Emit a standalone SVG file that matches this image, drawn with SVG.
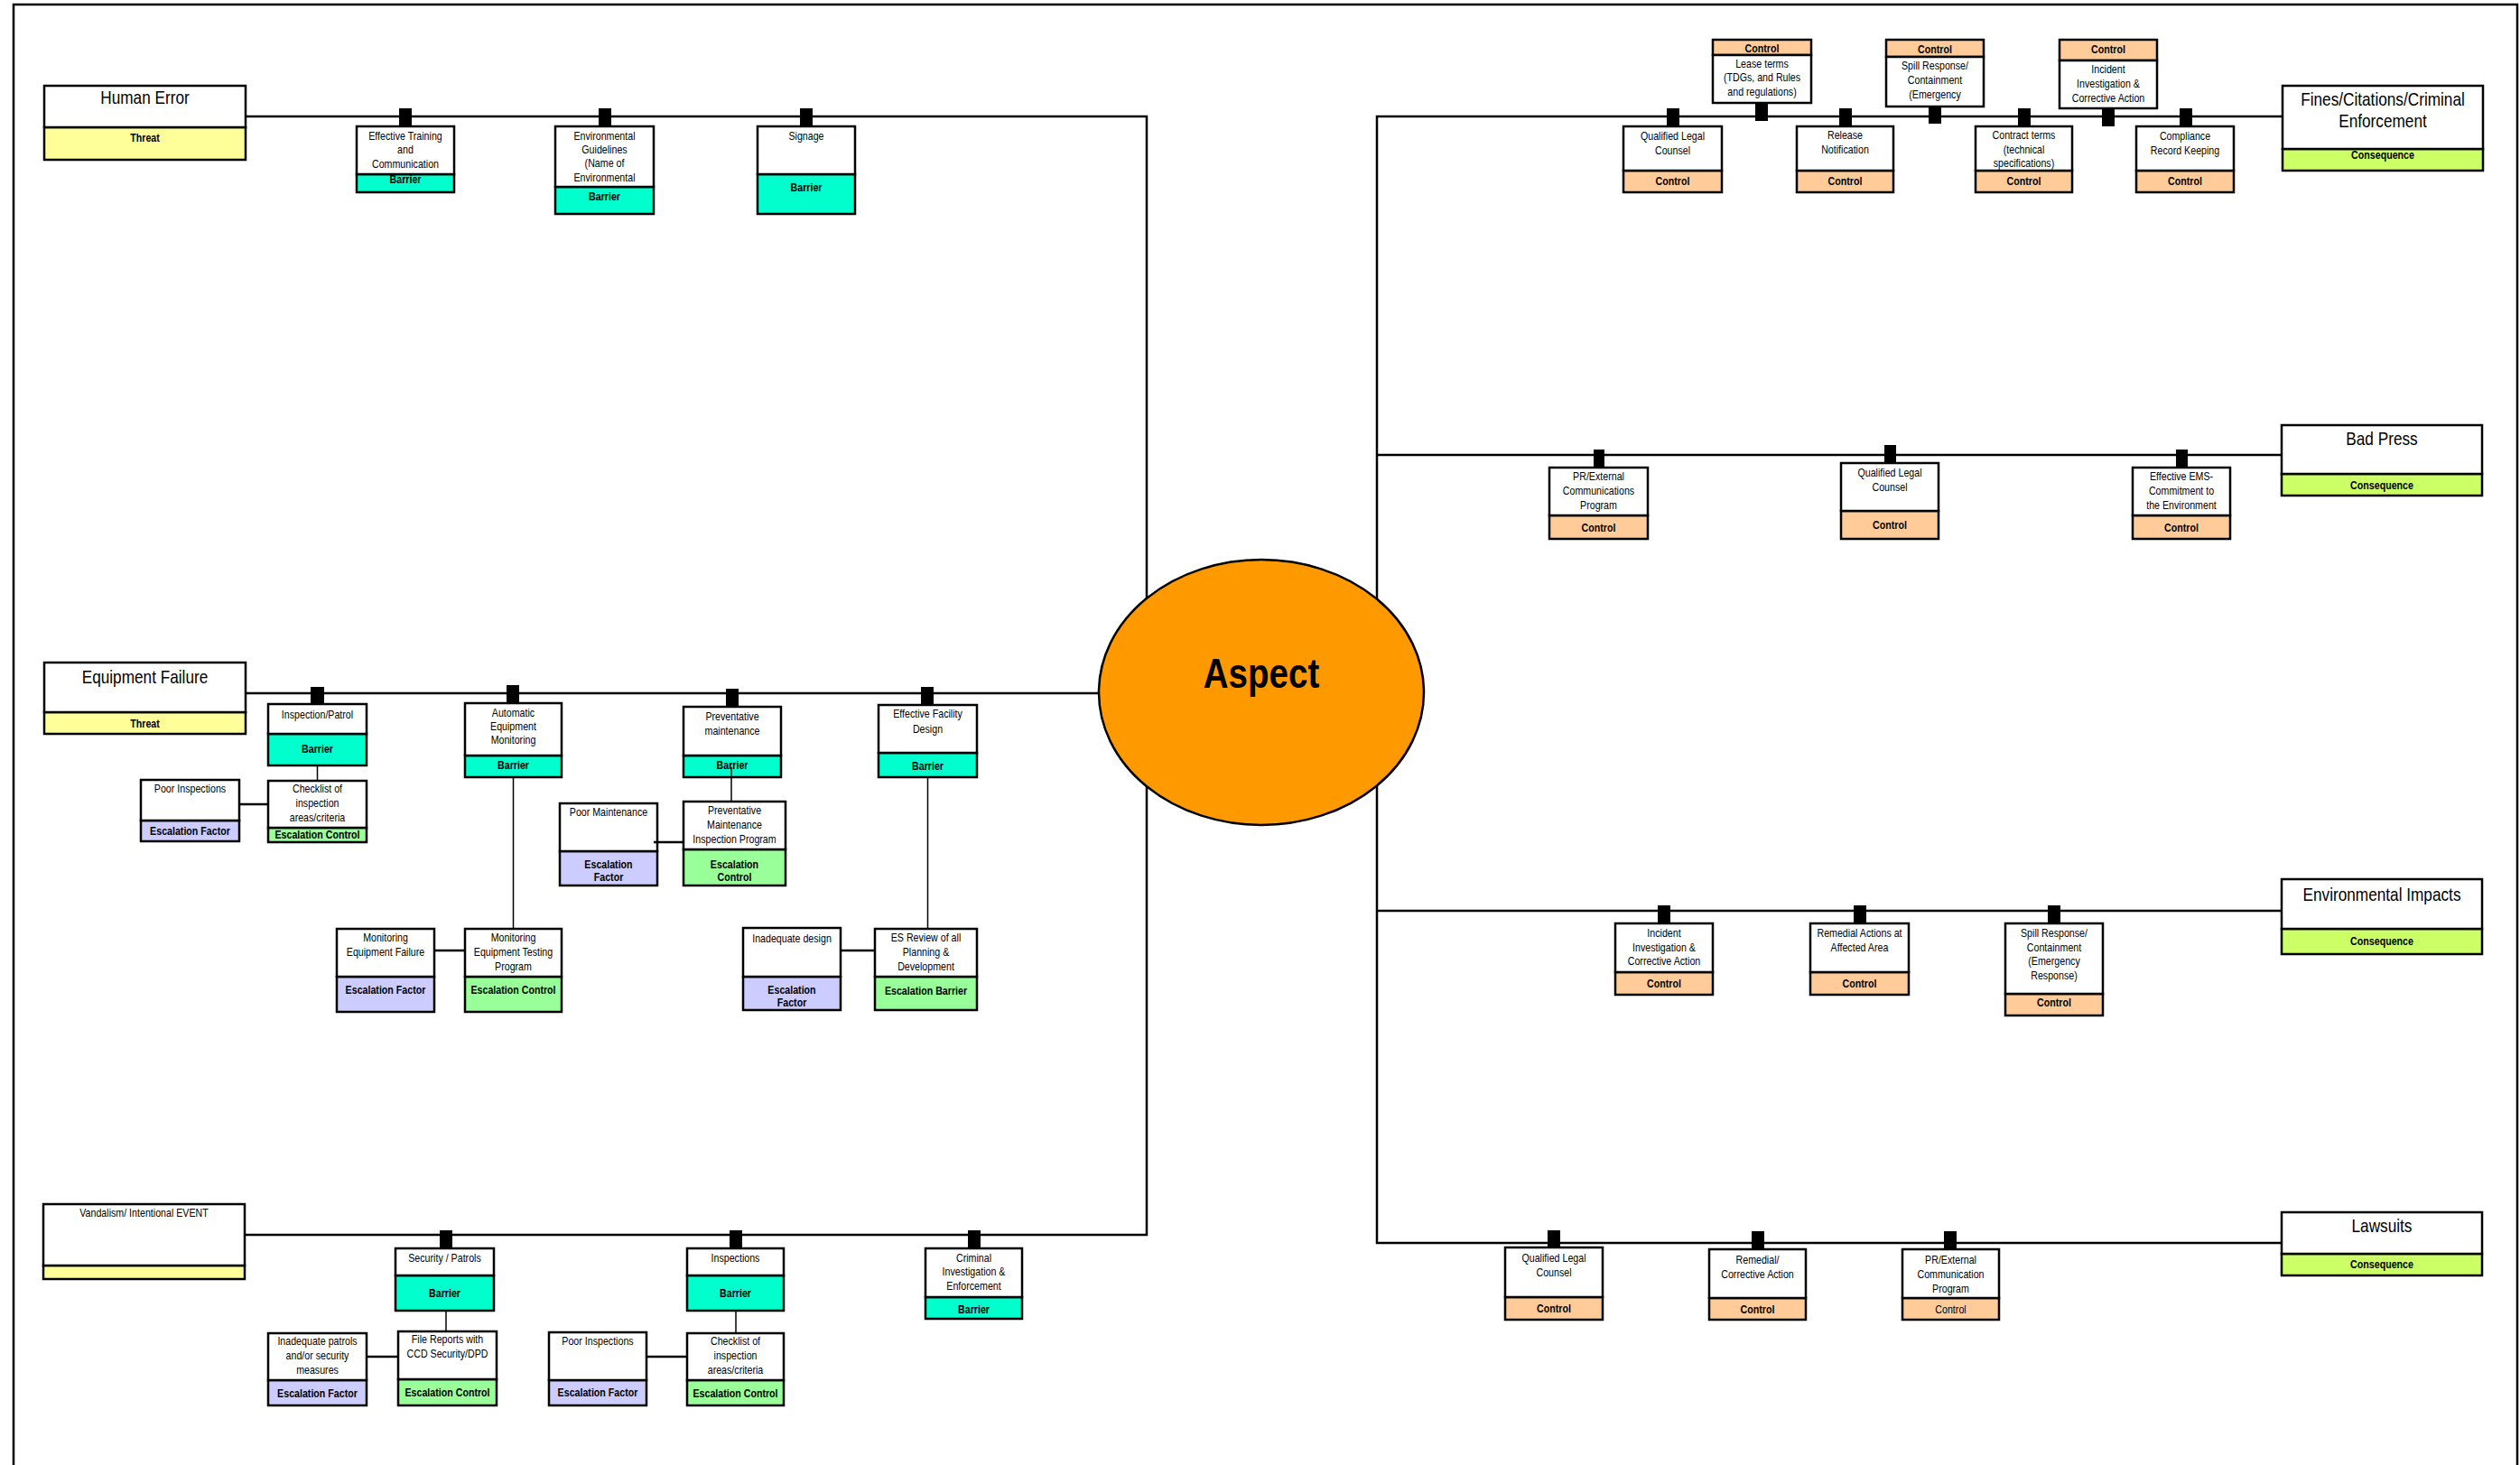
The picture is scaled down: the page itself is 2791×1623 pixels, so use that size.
<svg xmlns="http://www.w3.org/2000/svg" width="2791" height="1623" viewBox="0 0 2791 1623">
<style>
.bx{stroke:#000;stroke-width:2.5}
.w{fill:#fff}
.thr{fill:#ffff99}
.bar{fill:#00ffcc}
.ef{fill:#ccccff}
.ec{fill:#99ff99}
.ctl{fill:#ffcc99}
.con{fill:#ccff66}
text{font-family:"Liberation Sans",Arial,sans-serif;font-size:13px;text-anchor:middle;fill:#000}
.b{font-weight:bold}
.ti{font-size:21px}
.ln{stroke:#000;stroke-width:2.5;fill:none}
.th{stroke:#000;stroke-width:1.5;fill:none}
.tab{fill:#000}
</style>
<rect x="15" y="5" width="2773" height="1650" fill="#fff" stroke="#000" stroke-width="2.5"/>

<g id="human-error">
<rect class="bx thr" x="49" y="141" width="223" height="36"/>
<rect class="bx w" x="49" y="95" width="223" height="46"/>
<g transform="translate(160.5 0) scale(.82 1)"><text class="b" y="157">Threat</text><text class="ti" y="115">Human Error</text></g>
</g>
<g id="barrier-training">
<rect class="bx bar" x="395" y="193" width="108" height="20"/>
<g transform="translate(449 0) scale(.82 1)"><text class="b" y="203">Barrier</text></g>
<rect class="bx w" x="395" y="140" width="108" height="53"/>
<g transform="translate(449 0) scale(.82 1)"><text y="155">Effective Training</text><text y="170">and</text><text y="186">Communication</text></g>
</g>
<g id="barrier-env-guidelines">
<rect class="bx bar" x="615" y="207" width="109" height="30"/>
<rect class="bx w" x="615" y="140" width="109" height="67"/>
<g transform="translate(669.5 0) scale(.82 1)"><text class="b" y="222">Barrier</text><text y="155">Environmental</text><text y="170">Guidelines</text><text y="185">(Name of</text><text y="201">Environmental</text></g>
</g>
<g id="barrier-signage">
<rect class="bx bar" x="839" y="193" width="108" height="44"/>
<rect class="bx w" x="839" y="140" width="108" height="53"/>
<g transform="translate(893 0) scale(.82 1)"><text class="b" y="212">Barrier</text><text y="155">Signage</text></g>
</g>

<g id="equipment-failure">
<rect class="bx thr" x="49" y="789" width="223" height="24"/>
<rect class="bx w" x="49" y="734" width="223" height="55"/>
<g transform="translate(160.5 0) scale(.82 1)"><text class="b" y="806">Threat</text><text class="ti" y="757">Equipment Failure</text></g>
</g>
<g id="barrier-inspection-patrol">
<rect class="bx bar" x="297" y="813" width="109" height="35"/>
<rect class="bx w" x="297" y="780" width="109" height="33"/>
<g transform="translate(351.5 0) scale(.82 1)"><text class="b" y="834">Barrier</text><text y="796">Inspection/Patrol</text></g>
</g>
<g id="esc-control-checklist-1">
<rect class="bx ec" x="297" y="917" width="109" height="16"/>
<g transform="translate(351.5 0) scale(.82 1)"><text class="b" y="929">Escalation Control</text></g>
<rect class="bx w" x="297" y="865" width="109" height="52"/>
<g transform="translate(351.5 0) scale(.82 1)"><text y="878">Checklist of</text><text y="894">inspection</text><text y="910">areas/criteria</text></g>
</g>
<g id="esc-factor-poor-inspections-1">
<rect class="bx ef" x="156" y="909" width="109" height="23"/>
<rect class="bx w" x="156" y="864" width="109" height="45"/>
<g transform="translate(210.5 0) scale(.82 1)"><text class="b" y="925">Escalation Factor</text><text y="878">Poor Inspections</text></g>
</g>
<g id="barrier-auto-monitoring">
<rect class="bx bar" x="515" y="837" width="107" height="24"/>
<rect class="bx w" x="515" y="779" width="107" height="58"/>
<g transform="translate(568.5 0) scale(.82 1)"><text class="b" y="852">Barrier</text><text y="794">Automatic</text><text y="809">Equipment</text><text y="824">Monitoring</text></g>
</g>
<g id="esc-control-monitoring-testing">
<rect class="bx ec" x="515" y="1082" width="107" height="39"/>
<rect class="bx w" x="515" y="1029" width="107" height="53"/>
<g transform="translate(568.5 0) scale(.82 1)"><text class="b" y="1101">Escalation Control</text><text y="1043">Monitoring</text><text y="1059">Equipment Testing</text><text y="1075">Program</text></g>
</g>
<g id="esc-factor-monitoring-failure">
<rect class="bx ef" x="373" y="1082" width="108" height="39"/>
<rect class="bx w" x="373" y="1029" width="108" height="53"/>
<g transform="translate(427 0) scale(.82 1)"><text class="b" y="1101">Escalation Factor</text><text y="1043">Monitoring</text><text y="1059">Equipment Failure</text></g>
</g>
<g id="barrier-prev-maintenance">
<rect class="bx bar" x="757" y="837" width="108" height="24"/>
<rect class="bx w" x="757" y="783" width="108" height="54"/>
<g transform="translate(811 0) scale(.82 1)"><text class="b" y="852">Barrier</text><text y="798">Preventative</text><text y="814">maintenance</text></g>
</g>
<g id="esc-control-pm-program">
<rect class="bx ec" x="757" y="941" width="113" height="40"/>
<rect class="bx w" x="757" y="888" width="113" height="53"/>
<g transform="translate(813.5 0) scale(.82 1)"><text class="b" y="962">Escalation</text><text class="b" y="976">Control</text><text y="902">Preventative</text><text y="918">Maintenance</text><text y="934">Inspection Program</text></g>
</g>
<g id="esc-factor-poor-maintenance">
<rect class="bx ef" x="620" y="943" width="108" height="38"/>
<rect class="bx w" x="620" y="890" width="108" height="53"/>
<g transform="translate(674 0) scale(.82 1)"><text class="b" y="962">Escalation</text><text class="b" y="976">Factor</text><text y="904">Poor Maintenance</text></g>
</g>
<g id="barrier-facility-design">
<rect class="bx bar" x="973" y="834" width="109" height="27"/>
<rect class="bx w" x="973" y="781" width="109" height="53"/>
<g transform="translate(1027.5 0) scale(.82 1)"><text class="b" y="853">Barrier</text><text y="795">Effective Facility</text><text y="812">Design</text></g>
</g>
<g id="esc-barrier-es-review">
<rect class="bx ec" x="969" y="1082" width="113" height="37"/>
<rect class="bx w" x="969" y="1029" width="113" height="53"/>
<g transform="translate(1025.5 0) scale(.82 1)"><text class="b" y="1102">Escalation Barrier</text><text y="1043">ES Review of all</text><text y="1059">Planning &amp;</text><text y="1075">Development</text></g>
</g>
<g id="esc-factor-inadequate-design">
<rect class="bx ef" x="823" y="1082" width="108" height="37"/>
<rect class="bx w" x="823" y="1028" width="108" height="54"/>
<g transform="translate(877 0) scale(.82 1)"><text class="b" y="1101">Escalation</text><text class="b" y="1115">Factor</text><text y="1044">Inadequate design</text></g>
</g>

<g id="vandalism">
<rect class="bx thr" x="48" y="1402" width="223" height="15"/>
<rect class="bx w" x="48" y="1334" width="223" height="68"/>
<g transform="translate(159.5 0) scale(.82 1)"><text y="1348">Vandalism/ Intentional EVENT</text></g>
</g>
<g id="barrier-security-patrols">
<rect class="bx bar" x="438" y="1413" width="109" height="39"/>
<rect class="bx w" x="438" y="1383" width="109" height="30"/>
<g transform="translate(492.5 0) scale(.82 1)"><text class="b" y="1437">Barrier</text><text y="1398">Security / Patrols</text></g>
</g>
<g id="esc-control-file-reports">
<rect class="bx ec" x="441" y="1528" width="109" height="29"/>
<rect class="bx w" x="441" y="1475" width="109" height="53"/>
<g transform="translate(495.5 0) scale(.82 1)"><text class="b" y="1547">Escalation Control</text><text y="1488">File Reports with</text><text y="1504">CCD Security/DPD</text></g>
</g>
<g id="esc-factor-inadequate-patrols">
<rect class="bx ef" x="297" y="1529" width="109" height="28"/>
<rect class="bx w" x="297" y="1477" width="109" height="52"/>
<g transform="translate(351.5 0) scale(.82 1)"><text class="b" y="1548">Escalation Factor</text><text y="1490">Inadequate patrols</text><text y="1506">and/or security</text><text y="1522">measures</text></g>
</g>
<g id="barrier-inspections">
<rect class="bx bar" x="761" y="1413" width="107" height="39"/>
<rect class="bx w" x="761" y="1383" width="107" height="30"/>
<g transform="translate(814.5 0) scale(.82 1)"><text class="b" y="1437">Barrier</text><text y="1398">Inspections</text></g>
</g>
<g id="esc-control-checklist-2">
<rect class="bx ec" x="761" y="1529" width="107" height="28"/>
<rect class="bx w" x="761" y="1477" width="107" height="52"/>
<g transform="translate(814.5 0) scale(.82 1)"><text class="b" y="1548">Escalation Control</text><text y="1490">Checklist of</text><text y="1506">inspection</text><text y="1522">areas/criteria</text></g>
</g>
<g id="esc-factor-poor-inspections-2">
<rect class="bx ef" x="608" y="1529" width="108" height="28"/>
<rect class="bx w" x="608" y="1476" width="108" height="53"/>
<g transform="translate(662 0) scale(.82 1)"><text class="b" y="1547">Escalation Factor</text><text y="1490">Poor Inspections</text></g>
</g>
<g id="barrier-criminal">
<rect class="bx bar" x="1025" y="1437" width="107" height="24"/>
<rect class="bx w" x="1025" y="1383" width="107" height="54"/>
<g transform="translate(1078.5 0) scale(.82 1)"><text class="b" y="1455">Barrier</text><text y="1398">Criminal</text><text y="1413">Investigation &amp;</text><text y="1429">Enforcement</text></g>
</g>

<g id="control-legal-1">
<rect class="bx ctl" x="1798" y="189" width="109" height="24"/>
<rect class="bx w" x="1798" y="140" width="109" height="49"/>
<g transform="translate(1852.5 0) scale(.82 1)"><text class="b" y="205">Control</text><text y="155">Qualified Legal</text><text y="171">Counsel</text></g>
</g>
<g id="control-lease">
<rect class="bx ctl" x="1897" y="44" width="109" height="17"/>
<rect class="bx w" x="1897" y="61" width="109" height="53"/>
<g transform="translate(1951.5 0) scale(.82 1)"><text class="b" y="58">Control</text><text y="75">Lease terms</text><text y="90">(TDGs, and Rules</text><text y="106">and regulations)</text></g>
</g>
<g id="control-release">
<rect class="bx ctl" x="1990" y="189" width="107" height="24"/>
<rect class="bx w" x="1990" y="140" width="107" height="49"/>
<g transform="translate(2043.5 0) scale(.82 1)"><text class="b" y="205">Control</text><text y="154">Release</text><text y="170">Notification</text></g>
</g>
<g id="control-spill-1">
<rect class="bx ctl" x="2089" y="44" width="108" height="19"/>
<rect class="bx w" x="2089" y="63" width="108" height="55"/>
<g transform="translate(2143 0) scale(.82 1)"><text class="b" y="59">Control</text><text y="77">Spill Response/</text><text y="93">Containment</text><text y="109">(Emergency</text></g>
</g>
<g id="control-contract">
<rect class="bx ctl" x="2188" y="189" width="107" height="24"/>
<rect class="bx w" x="2188" y="140" width="107" height="49"/>
<g transform="translate(2241.5 0) scale(.82 1)"><text class="b" y="205">Control</text><text y="154">Contract terms</text><text y="170">(technical</text><text y="185">specifications)</text></g>
</g>
<g id="control-incident-1">
<rect class="bx ctl" x="2281" y="44" width="108" height="23"/>
<rect class="bx w" x="2281" y="67" width="108" height="53"/>
<g transform="translate(2335 0) scale(.82 1)"><text class="b" y="59">Control</text><text y="81">Incident</text><text y="97">Investigation &amp;</text><text y="113">Corrective Action</text></g>
</g>
<g id="control-compliance">
<rect class="bx ctl" x="2366" y="189" width="108" height="24"/>
<rect class="bx w" x="2366" y="140" width="108" height="49"/>
<g transform="translate(2420 0) scale(.82 1)"><text class="b" y="205">Control</text><text y="155">Compliance</text><text y="171">Record Keeping</text></g>
</g>
<g id="fines">
<rect class="bx con" x="2528" y="165" width="222" height="24"/>
<rect class="bx w" x="2528" y="95" width="222" height="70"/>
<g transform="translate(2639 0) scale(.82 1)"><text class="b" y="176">Consequence</text><text class="ti" y="117">Fines/Citations/Criminal</text><text class="ti" y="141">Enforcement</text></g>
</g>

<g id="bad-press">
<rect class="bx con" x="2527" y="525" width="222" height="24"/>
<rect class="bx w" x="2527" y="471" width="222" height="54"/>
<g transform="translate(2638 0) scale(.82 1)"><text class="b" y="542">Consequence</text><text class="ti" y="493">Bad Press</text></g>
</g>
<g id="control-pr-1">
<rect class="bx ctl" x="1716" y="571" width="109" height="26"/>
<rect class="bx w" x="1716" y="518" width="109" height="53"/>
<g transform="translate(1770.5 0) scale(.82 1)"><text class="b" y="589">Control</text><text y="532">PR/External</text><text y="548">Communications</text><text y="564">Program</text></g>
</g>
<g id="control-legal-2">
<rect class="bx ctl" x="2039" y="566" width="108" height="31"/>
<rect class="bx w" x="2039" y="513" width="108" height="53"/>
<g transform="translate(2093 0) scale(.82 1)"><text class="b" y="586">Control</text><text y="528">Qualified Legal</text><text y="544">Counsel</text></g>
</g>
<g id="control-ems">
<rect class="bx ctl" x="2362" y="571" width="108" height="26"/>
<rect class="bx w" x="2362" y="518" width="108" height="53"/>
<g transform="translate(2416 0) scale(.82 1)"><text class="b" y="589">Control</text><text y="532">Effective EMS-</text><text y="548">Commitment to</text><text y="564">the Environment</text></g>
</g>

<g id="environmental-impacts">
<rect class="bx con" x="2527" y="1029" width="222" height="28"/>
<rect class="bx w" x="2527" y="974" width="222" height="55"/>
<g transform="translate(2638 0) scale(.82 1)"><text class="b" y="1047">Consequence</text><text class="ti" y="998">Environmental Impacts</text></g>
</g>
<g id="control-incident-2">
<rect class="bx ctl" x="1789" y="1077" width="108" height="25"/>
<rect class="bx w" x="1789" y="1023" width="108" height="54"/>
<g transform="translate(1843 0) scale(.82 1)"><text class="b" y="1094">Control</text><text y="1038">Incident</text><text y="1054">Investigation &amp;</text><text y="1069">Corrective Action</text></g>
</g>
<g id="control-remedial-1">
<rect class="bx ctl" x="2005" y="1077" width="109" height="25"/>
<rect class="bx w" x="2005" y="1023" width="109" height="54"/>
<g transform="translate(2059.5 0) scale(.82 1)"><text class="b" y="1094">Control</text><text y="1038">Remedial Actions at</text><text y="1054">Affected Area</text></g>
</g>
<g id="control-spill-2">
<rect class="bx ctl" x="2221" y="1101" width="108" height="24"/>
<rect class="bx w" x="2221" y="1023" width="108" height="78"/>
<g transform="translate(2275 0) scale(.82 1)"><text class="b" y="1115">Control</text><text y="1038">Spill Response/</text><text y="1054">Containment</text><text y="1069">(Emergency</text><text y="1085">Response)</text></g>
</g>

<g id="lawsuits">
<rect class="bx con" x="2527" y="1389" width="222" height="24"/>
<rect class="bx w" x="2527" y="1343" width="222" height="46"/>
<g transform="translate(2638 0) scale(.82 1)"><text class="b" y="1405">Consequence</text><text class="ti" y="1365">Lawsuits</text></g>
</g>
<g id="control-legal-3">
<rect class="bx ctl" x="1667" y="1437" width="108" height="25"/>
<rect class="bx w" x="1667" y="1382" width="108" height="55"/>
<g transform="translate(1721 0) scale(.82 1)"><text class="b" y="1454">Control</text><text y="1398">Qualified Legal</text><text y="1414">Counsel</text></g>
</g>
<g id="control-remedial-2">
<rect class="bx ctl" x="1893" y="1438" width="107" height="24"/>
<rect class="bx w" x="1893" y="1384" width="107" height="54"/>
<g transform="translate(1946.5 0) scale(.82 1)"><text class="b" y="1455">Control</text><text y="1400">Remedial/</text><text y="1416">Corrective Action</text></g>
</g>
<g id="control-pr-2">
<rect class="bx ctl" x="2107" y="1438" width="107" height="24"/>
<rect class="bx w" x="2107" y="1384" width="107" height="54"/>
<g transform="translate(2160.5 0) scale(.82 1)"><text y="1455">Control</text><text y="1400">PR/External</text><text y="1416">Communication</text><text y="1432">Program</text></g>
</g>

<g id="connectors">
<path class="ln" d="M272,129 H1270 V1368 H271"/>
<path class="ln" d="M272,768 H1222"/>
<path class="ln" d="M2528,129 H1525 V1377 H2527"/>
<path class="ln" d="M1525,504 H2527"/>
<path class="ln" d="M1525,1009 H2527"/>
<path class="th" d="M351.5,848 V865"/>
<path class="th" d="M568.5,861 V1029"/>
<path class="th" d="M810,850 V888"/>
<path class="th" d="M1027.5,861 V1029"/>
<path class="th" d="M494,1452 V1475"/>
<path class="th" d="M815,1452 V1477"/>
<path class="ln" d="M265,891 H297"/>
<path class="ln" d="M481,1053 H515"/>
<path class="ln" d="M724,933 H757"/>
<path class="ln" d="M931,1053 H969"/>
<path class="ln" d="M406,1503 H441"/>
<path class="ln" d="M716,1503 H761"/>
<rect class="tab" x="442" y="120" width="14" height="20"/>
<rect class="tab" x="663" y="120" width="14" height="20"/>
<rect class="tab" x="886" y="120" width="14" height="20"/>
<rect class="tab" x="1846" y="120" width="14" height="20"/>
<rect class="tab" x="1944" y="114" width="14" height="20"/>
<rect class="tab" x="2037" y="120" width="14" height="20"/>
<rect class="tab" x="2136" y="118" width="14" height="19"/>
<rect class="tab" x="2235" y="120" width="14" height="20"/>
<rect class="tab" x="2328" y="120" width="14" height="20"/>
<rect class="tab" x="2414" y="120" width="14" height="20"/>
<rect class="tab" x="344" y="761" width="15" height="19"/>
<rect class="tab" x="561" y="759" width="14" height="20"/>
<rect class="tab" x="804" y="763" width="14" height="20"/>
<rect class="tab" x="1020" y="761" width="14" height="20"/>
<rect class="tab" x="1765" y="498" width="12" height="20"/>
<rect class="tab" x="2087" y="493" width="13" height="20"/>
<rect class="tab" x="2410" y="498" width="13" height="20"/>
<rect class="tab" x="1836" y="1003" width="14" height="20"/>
<rect class="tab" x="2053" y="1003" width="14" height="20"/>
<rect class="tab" x="2268" y="1003" width="14" height="20"/>
<rect class="tab" x="1714" y="1363" width="14" height="19"/>
<rect class="tab" x="1940" y="1364" width="14" height="20"/>
<rect class="tab" x="2153" y="1364" width="14" height="20"/>
<rect class="tab" x="487" y="1363" width="14" height="20"/>
<rect class="tab" x="808" y="1363" width="14" height="20"/>
<rect class="tab" x="1072" y="1363" width="14" height="20"/>
</g>

<g id="aspect">
<ellipse cx="1397" cy="767" rx="180" ry="147" fill="#ff9900" stroke="#000" stroke-width="2.5"/>
<g transform="translate(1397 0) scale(.82 1)"><text class="b" y="762" style="font-size:47px">Aspect</text></g>
</g>
</svg>
